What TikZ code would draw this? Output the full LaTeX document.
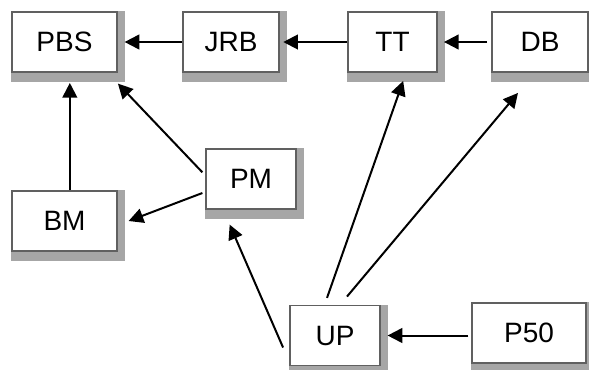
\documentclass[tikz,border=0pt]{standalone}
\usepackage{fontspec}
\setmainfont{Liberation Sans}
\usetikzlibrary{arrows.meta,backgrounds}
\definecolor{boxline}{HTML}{606060}
\definecolor{shadowgray}{HTML}{A6A6A6}
\begin{document}
\begin{tikzpicture}[
    x=0.75pt, y=-0.75pt,
    box/.style={rectangle, draw=boxline, line width=1.4pt, fill=white, minimum height=45pt, inner sep=0pt, font=\fontsize{21}{24}\selectfont},
    arrow/.style={-{Triangle[length=11pt,width=11pt]}, line width=1.5pt, black},
    shade/.style={fill=shadowgray},
]
\useasboundingbox (0,0) rectangle (589,369);

\node[box, minimum width=78.75pt] (PBS) at (64.5,42) {PBS};
\node[box, minimum width=72pt] (JRB) at (231,42) {JRB};
\node[box, minimum width=66.75pt] (TT) at (392.5,42) {TT};
\node[box, minimum width=72pt] (DB) at (540,42) {DB};

\node[box, minimum width=78.75pt] (BM) at (64.5,221) {BM};
\node[box, minimum width=67.5pt] (PM) at (251,179) {PM};

\node[box, minimum width=67.5pt] (UP) at (335,335.5) {UP};
\node[box, minimum width=85.5pt] (P50) at (529,333) {P50};

% shadows behind the boxes
\begin{scope}[on background layer]
\foreach \n in {PBS,JRB,TT,DB,BM,PM,UP,P50}
    \fill[shade] (\n.north west) rectangle ([xshift=5pt,yshift=-7pt]\n.south east);
\end{scope}

\draw[arrow, shorten >=5pt] (JRB.west) -- (PBS.east);
\draw[arrow, shorten >=2.5pt] (TT.west) -- (JRB.east);
\draw[arrow, shorten >=4.5pt] ([xshift=-3pt]DB.west) -- (TT.east);
\draw[arrow, shorten >=7.5pt] ([xshift=4pt]BM.north) -- ([xshift=4pt]PBS.south);
\draw[arrow] ([xshift=-2pt,yshift=5pt]PM.west) -- ([yshift=-8pt]PBS.south east);
\draw[arrow] ([xshift=-2pt,yshift=-10.5pt]PM.west) -- ([xshift=8pt]BM.east);
\draw[arrow] ([xshift=-4.5pt,yshift=-9pt]UP.west) -- ([xshift=-16pt,yshift=-11pt]PM.south);
\draw[arrow] ([xshift=-6pt,yshift=5pt]UP.north) -- ([xshift=8pt,yshift=-6pt]TT.south);
\draw[arrow] ([xshift=9pt,yshift=6pt]UP.north) -- ([xshift=-16.5pt,yshift=-15pt]DB.south);
\draw[arrow, shorten >=5pt] ([xshift=-2pt]P50.west |- UP.east) -- (UP.east);
\end{tikzpicture}
\end{document}
